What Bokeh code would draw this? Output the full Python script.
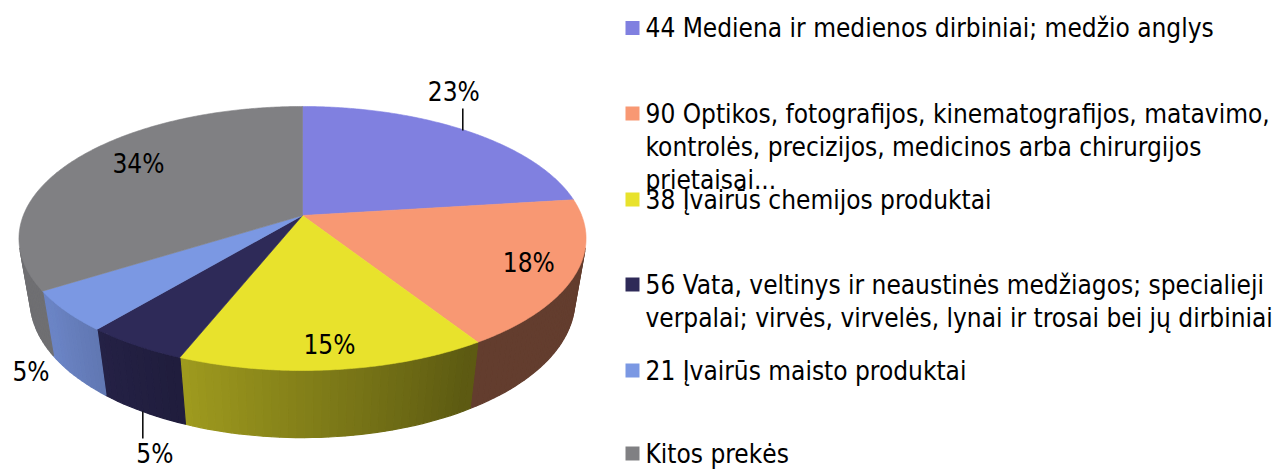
import numpy as np
from bokeh.plotting import figure
from bokeh.models import Range1d
from bokeh.embed import file_html
from bokeh.resources import INLINE
from bokeh.core.properties import value

# ---------------- data ----------------
categories = [
    "44 Mediena ir medienos dirbiniai; medžio anglys",
    "90 Optikos, fotografijos, kinematografijos, matavimo, kontrolės, precizijos, medicinos arba chirurgijos prietaisai...",
    "38 Įvairūs chemijos produktai",
    "56 Vata, veltinys ir neaustinės medžiagos; specialieji verpalai; virvės, virvelės, lynai ir trosai bei jų dirbiniai",
    "21 Įvairūs maisto produktai",
    "Kitos prekės",
]
legend_lines = [
    ["44 Mediena ir medienos dirbiniai; medžio anglys"],
    ["90 Optikos, fotografijos, kinematografijos, matavimo,",
     "kontrolės, precizijos, medicinos arba chirurgijos",
     "prietaisai..."],
    ["38 Įvairūs chemijos produktai"],
    ["56 Vata, veltinys ir neaustinės medžiagos; specialieji",
     "verpalai; virvės, virvelės, lynai ir trosai bei jų dirbiniai"],
    ["21 Įvairūs maisto produktai"],
    ["Kitos prekės"],
]
shares = [23, 18, 15, 5, 5, 34]
pct_labels = ["23%", "18%", "15%", "5%", "5%", "34%"]
colors = ["#8080E0", "#F89873", "#E8E22C", "#2E2A58", "#7B98E3", "#808083"]

# ---------------- style / geometry ----------------
W, H = 1275, 469
CX, CY = 302.0, 215.0          # apex of the slices on screen
A, B, K = 279.2, 128.0, 0.1742  # perspective projection of the top face
E, M = 64.3, 0.04               # thickness of the pie
FONT = "DejaVu Sans Condensed, DejaVu Sans"
FS = "26px"


def proj(theta_deg, r=1.0, depth=0.0):
    t = np.radians(theta_deg)
    u = r * np.sin(t)
    v = r * np.cos(t)
    w = 1.0 + K * v + M * depth
    return CX + A * u / w, CY - (B * v - E * depth) / w


def shade(hexcol, f):
    h = hexcol.lstrip("#")
    rgb = [int(h[i:i + 2], 16) for i in (0, 2, 4)]
    return "#%02x%02x%02x" % tuple(max(0, min(255, int(round(c * f)))) for c in rgb)


def side_factor(theta):
    t = np.clip((theta - 150.0) / 85.0, 0.0, 1.0)
    return 0.40 + 0.47 * t


total = float(sum(shares))
bounds = np.concatenate([[0.0], np.cumsum(shares) / total * 360.0])

p = figure(width=W, height=H, output_backend="svg", toolbar_location=None,
           x_range=Range1d(0, W), y_range=Range1d(H, 0), min_border=0)
p.axis.visible = False
p.grid.visible = False
p.outline_line_color = None
p.background_fill_color = "white"
p.border_fill_color = "white"

# ---- side walls (visible front part only) ----
VIS0, VIS1 = 104.0, 256.0
sx, sy, sc = [], [], []
for i in range(len(shares)):
    a0, a1 = max(bounds[i], VIS0), min(bounds[i + 1], VIS1)
    if a1 <= a0:
        continue
    n = max(2, int(np.ceil((a1 - a0) / 1.5)))
    ts = np.linspace(a0, a1, n + 1)
    for j in range(n):
        t0, t1 = ts[j], ts[j + 1]
        x0t, y0t = proj(t0)
        x1t, y1t = proj(t1)
        x1b, y1b = proj(t1, depth=1.0)
        x0b, y0b = proj(t0, depth=1.0)
        sx.append([x0t, x1t, x1b, x0b])
        sy.append([y0t, y1t, y1b, y0b])
        sc.append(shade(colors[i], side_factor(0.5 * (t0 + t1))))
p.patches(sx, sy, fill_color=sc, line_color=sc, line_width=1.2)

# ---- top faces ----
tx, ty = [], []
for i in range(len(shares)):
    ts = np.linspace(bounds[i], bounds[i + 1], max(3, int((bounds[i + 1] - bounds[i]) / 0.5)))
    xs, ys = proj(ts)
    tx.append([CX] + list(xs))
    ty.append([CY] + list(ys))
p.patches(tx, ty, fill_color=colors, line_color=colors, line_width=0.6)

# ---- percentage labels ----
mids = 0.5 * (bounds[:-1] + bounds[1:])
lab_x, lab_y = [], []
lead_x0, lead_y0, lead_x1, lead_y1 = [], [], [], []
inside_r = {1: 0.84, 2: 0.87, 5: 0.72}
inside_nudge = {1: (0, -1), 2: (0, -1), 5: (2, -10)}
for i in range(len(shares)):
    if i in inside_r:
        x, y = proj(mids[i], r=inside_r[i])
        dx, dy = inside_nudge[i]
        lab_x.append(x + dx)
        lab_y.append(y + dy)
    elif i == 0:
        x, y = proj(mids[i])
        lead_x0.append(x - 3); lead_y0.append(y)
        lead_x1.append(x - 3); lead_y1.append(y - 22)
        lab_x.append(x - 12); lab_y.append(y - 39)
    elif i == 3:
        x, y = proj(mids[i], depth=1.0)
        lead_x0.append(x); lead_y0.append(y)
        lead_x1.append(x); lead_y1.append(y + 27)
        lab_x.append(x + 12); lab_y.append(y + 42)
    else:
        x, y = proj(mids[i], depth=1.0)
        lab_x.append(x - 45); lab_y.append(y - 5)

p.segment(lead_x0, lead_y0, lead_x1, lead_y1, line_color="black", line_width=1.5)
p.text(lab_x, lab_y, text=pct_labels, text_font=value(FONT), text_font_size=FS,
       text_align="center", text_baseline="middle", text_color="black")

# ---- legend ----
LX_SQ, LX_TXT = 632, 645
first_centers = [27.5, 113, 199, 284, 370, 453]
LINE_H = 33
p.rect([LX_SQ] * len(colors), first_centers, width=14, height=14,
       fill_color=colors, line_color=None)
txt, txx, txy = [], [], []
for i, lines in enumerate(legend_lines):
    for j, ln in enumerate(lines):
        txt.append(ln)
        txx.append(LX_TXT)
        txy.append(first_centers[i] + j * LINE_H)
p.text(txx, txy, text=txt, text_font=value(FONT), text_font_size=FS,
       text_align="left", text_baseline="middle", text_color="black")

open("out.html", "w").write(file_html(p, INLINE))
